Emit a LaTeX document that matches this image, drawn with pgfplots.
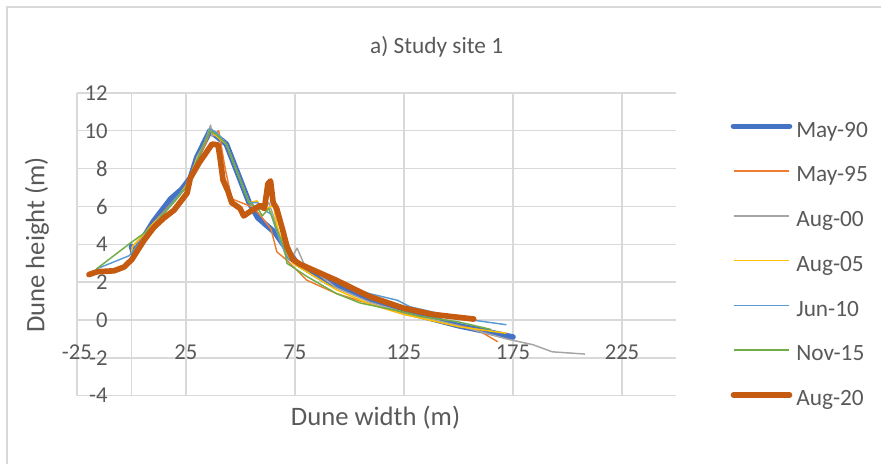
\documentclass[border=0pt]{standalone}
\usepackage{pgfplots}
\pgfplotsset{compat=1.18}
\usepackage{fontspec}
\setmainfont{Carlito}
\definecolor{gridgray}{HTML}{D9D9D9}
\definecolor{txtgray}{HTML}{595959}
\definecolor{cMay90}{HTML}{4472C4}
\definecolor{cMay95}{HTML}{ED7D31}
\definecolor{cAug00}{HTML}{A5A5A5}
\definecolor{cAug05}{HTML}{FFC000}
\definecolor{cJun10}{HTML}{5B9BD5}
\definecolor{cNov15}{HTML}{70AD47}
\definecolor{cAug20}{HTML}{C55A11}
\begin{document}
\begin{tikzpicture}
\begin{axis}[
  name=ax, at={(0,0)}, anchor=south west,
  scale only axis, width=450pt, height=227.25pt,
  xmin=-25, xmax=250, ymin=-4, ymax=12,
  axis line style={draw=none},
  xtick={-25,25,75,125,175,225},
  ytick={-4,-2,0,2,4,6,8,10,12},
  extra x ticks={0}, extra x tick labels={},
  extra x tick style={grid=major},
  grid=major, grid style={draw=gridgray, line width=1pt},
  major tick length=0pt,
  /pgf/number format/assume math mode=true,
  tick label style={font=\fontsize{17}{20}\selectfont, text=txtgray, inner sep=0pt},
  x tick label style={anchor=north, yshift=38.25pt},
  y tick label style={anchor=east, xshift=23.25pt},
  clip=false,
  legend style={draw=none, fill=none, at={(axis description cs:1.0833,0.4284)}, anchor=west,
    font=\fontsize{17.5}{20}\selectfont, text=txtgray,
    nodes={inner sep=0pt, text height=12pt, text depth=4pt},
    row sep=17.6pt, column sep=3pt},
  legend cell align=left,
  legend image code/.code={\draw[#1] (0pt,4pt) -- (42pt,4pt);},
  line join=round,
]
\addplot[cMay90, line width=4.25pt, line cap=round] coordinates {
(0,3.9) (1,3.5) (10,5.2) (18,6.4) (23,6.9) (27,7.5) (30,8.6) (36,10.0) (43.5,9.3) (54,6.2) (58,5.4) (66,4.6) (72,3.6) (76,3.0) (90,2.0) (110,1.1) (125,0.45) (150,-0.3) (175,-0.9)};
\addlegendentry{May-90}
\addplot[cMay95, line width=1.1pt] coordinates {
(0,3.8) (10,5.1) (20,6.4) (25,7.0) (30,8.4) (34,9.3) (36.5,10.15) (38,9.8) (40,10.0) (43,8.0) (46,6.4) (56,5.95) (60,5.4) (64,4.8) (66.7,3.6) (71.3,3.16) (80.5,2.1) (94,1.4) (105,1.0) (125,0.3) (150,-0.3) (158.5,-0.5) (168,-1.15)};
\addlegendentry{May-95}
\addplot[cAug00, line width=1.1pt] coordinates {
(0,3.8) (10,5.0) (20,6.3) (25,7.0) (29,8.2) (30,8.6) (33,9.2) (36.3,10.3) (37,9.7) (39,9.9) (43.5,9.3) (54,6.2) (57,5.8) (61,5.9) (63,6.2) (66,5.2) (69,4.0) (71,3.3) (74,3.4) (76,3.8) (79,3.0) (94,1.7) (109,0.95) (125,0.4) (150,-0.3) (172,-1.0) (184,-1.3) (193,-1.68) (208,-1.8)};
\addlegendentry{Aug-00}
\addplot[cAug05, line width=1.1pt] coordinates {
(0,3.5) (0.5,3.9) (10,5.1) (20,6.3) (25,7.1) (30,8.5) (34,9.5) (36,10.1) (38,9.8) (43.5,9.3) (54,6.2) (57.6,6.3) (60,5.8) (63.5,5.95) (65,6.1) (67,4.9) (70,3.8) (74,3.0) (94,1.6) (109,0.85) (125,0.3) (150,-0.35) (172,-0.7)};
\addlegendentry{Aug-05}
\addplot[cJun10, line width=1.1pt] coordinates {
(-16,2.7) (-1,3.4) (10,5.0) (20,6.4) (25,7.0) (30,8.4) (36,10.1) (39,9.9) (43.5,9.3) (54,6.2) (58,6.2) (61,5.8) (64,5.6) (68,4.2) (72,3.2) (79,2.8) (94,2.0) (109,1.4) (121.8,1.05) (127.8,0.7) (150,0.1) (172,-0.25)};
\addlegendentry{Jun-10}
\addplot[cNov15, line width=1.1pt] coordinates {
(-16,2.7) (-0.7,4.05) (6,4.6) (10,5.0) (20,6.3) (25,7.0) (30,8.4) (36,10.0) (39,9.8) (43.5,9.3) (54,6.2) (58,5.9) (60,5.5) (63,5.9) (66,5.0) (70.4,3.7) (71.3,3.0) (80.5,2.3) (94,1.4) (104.8,0.9) (124.5,0.43) (132,0.2) (150,-0.1) (165,-0.5)};
\addlegendentry{Nov-15}
\addplot[cAug20, line width=4.25pt, line cap=round] coordinates {
(-19.5,2.4) (-15.8,2.55) (-8,2.6) (-3.4,2.8) (0.2,3.2) (5.7,4.2) (10.3,4.9) (15,5.4) (19.5,5.8) (25.5,6.7) (27,7.5) (31,8.3) (34.6,8.9) (37,9.3) (39.7,9.25) (40.6,8.6) (42,7.4) (44.3,6.8) (46,6.2) (49.8,5.9) (51.5,5.5) (54,5.7) (59,6.05) (61,5.9) (62.6,7.2) (63.8,7.35) (65,6.2) (66.6,5.9) (69.5,4.7) (71.3,3.9) (74,3.2) (77.3,2.95) (94,2.1) (109,1.25) (124.7,0.63) (138,0.3) (157,0.05)};
\addlegendentry{Aug-20}
\node[font=\fontsize{17.5}{20}\selectfont, text=txtgray] at (axis description cs:0.6,1.1518) {a) Study site 1};
\node[font=\fontsize{20}{23}\selectfont, text=txtgray, rotate=90] at (axis description cs:-0.0667,0.498) {Dune height (m)};
\node[font=\fontsize{20}{23}\selectfont, text=txtgray] at (axis description cs:0.498,-0.0726) {Dune width (m)};
\end{axis}
\draw[gridgray, line width=1pt] (-52.5pt,-51pt) -- (-52.5pt,291.75pt) -- (603.75pt,291.75pt);
\useasboundingbox (-57.75pt,-51pt) rectangle (603.75pt,297pt);
\end{tikzpicture}
\end{document}
